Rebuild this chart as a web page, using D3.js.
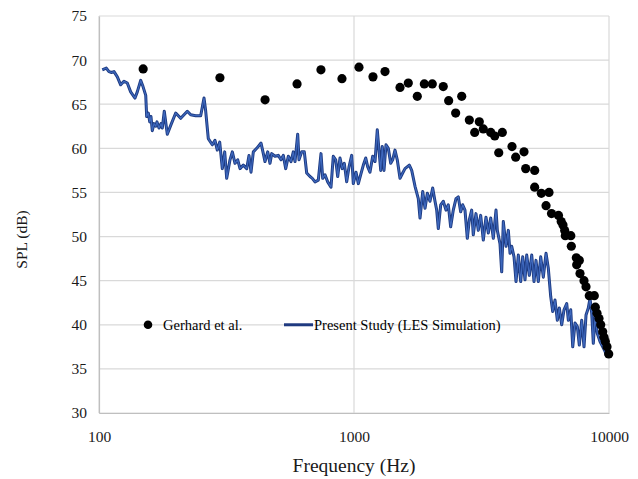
<!DOCTYPE html>
<html>
<head>
<meta charset="utf-8">
<script src="https://cdn.jsdelivr.net/npm/d3@7"></script>
<style>
  body { margin: 0; background: #fff; }
  svg text { font-family: "Liberation Serif", Tinos, "Times New Roman", serif; }
</style>
</head>
<body>
<div id="chart"></div>
<script>
// Gerhard et al. measured points
const gerhardFreq = [149, 298, 448, 598, 742, 897, 1046, 1187, 1323, 1515, 1633, 1771, 1887, 2028,
  2239, 2351, 2504, 2645, 2833, 2974, 3100, 3214, 3437, 3564, 3695, 3816, 4165, 4306, 4642, 4713,
  5111, 5111, 5427, 5818, 5663, 5951, 6339, 6494, 6601, 6704, 6740, 7083, 7116, 7444, 7648, 7470,
  7697, 7980, 8126, 8370, 8759, 8838, 8974, 9137, 9279, 9448, 9560, 9673, 9822, 9973];
const gerhardSpl = [69.0, 68.0, 65.5, 67.3, 68.9, 67.9, 69.2, 68.1, 68.7, 66.9, 67.4, 65.9, 67.3, 67.3,
  67.0, 65.4, 64.0, 65.9, 63.2, 61.8, 63.0, 62.2, 61.8, 61.4, 59.5, 61.8, 60.2, 59.0, 59.6, 57.7,
  57.5, 55.6, 54.9, 55.0, 53.5, 52.6, 52.4, 51.7, 51.3, 50.7, 50.1, 50.1, 48.9, 47.6, 47.3, 46.8,
  45.8, 45.0, 44.3, 43.3, 43.3, 42.0, 41.3, 40.7, 40.0, 39.2, 38.6, 38.1, 37.5, 36.7];

// Present study (LES simulation)
const lesFreq = [103, 106.8, 109.4, 112.1, 114.5, 118, 121.6, 125.3, 129.1, 133.1, 138.4, 141.3, 145.7,
  148.8, 152.5, 153.8, 156.1, 158.1, 159.9, 161.8, 164.3, 166.9, 168.8, 171.9, 175, 177.1, 180.3,
  185.3, 191.1, 199.9, 209.1, 222, 228.9, 239.4, 250.5, 258.1, 262.1, 268.3, 278.2, 285, 291,
  297.4, 304.5, 311.1, 316.8, 326.4, 333.3, 341.5, 349.9, 357.3, 368.1, 379.6, 387.5, 394.6, 402.9,
  415.4, 431.9, 441, 447.7, 458.8, 468.4, 475.7, 490, 504.8, 517.3, 528.1, 539.8, 552.6, 566.2,
  578.1, 587, 601.5, 608.6, 623.6, 638.4, 652.4, 672.2, 686.3, 703.2, 724.4, 742.3, 753.8, 769.6,
  788.6, 812.4, 829.4, 847.6, 863.1, 881.2, 899.6, 916.2, 936.2, 956, 979.5, 993.8,
  1018, 1040, 1062, 1088, 1112, 1132, 1155, 1184, 1209, 1234, 1253, 1273, 1291, 1311, 1335, 1363,
  1393, 1418, 1448, 1478, 1515, 1552, 1585, 1648, 1684, 1735, 1787, 1815, 1860, 1899, 1939, 1986,
  2035, 2078, 2110, 2141, 2188, 2239, 2295, 2343, 2394, 2451, 2512, 2564, 2620, 2668, 2724, 2782,
  2833, 2894, 2936, 3008, 3072, 3139, 3214, 3293, 3363, 3437, 3518, 3605, 3648, 3737, 3795, 3851,
  3946, 4029, 4092, 4154, 4242, 4319, 4410, 4506, 4588, 4684, 4757, 4870, 4977, 5081, 5173, 5281,
  5398, 5526, 5663, 5781, 5908, 6016, 6142, 6272, 6386, 6525, 6662, 6827, 6927, 7079, 7207, 7359,
  7513, 7648, 7816, 7980, 8126, 8296, 8425, 8556, 8679, 8814, 9000, 9220, 9448, 9646, 9795];
const lesSpl = [68.9, 69.1, 68.7, 68.6, 68.7, 68.1, 67.2, 67.6, 67.4, 66.4, 65.7, 66.4, 67.7,
  67.0, 66.0, 63.6, 64.0, 63.0, 63.6, 62.0, 62.8, 62.5, 63.0, 62.3, 62.8, 62.3, 64.2,
  61.6, 62.6, 64.0, 63.4, 64.2, 63.8, 63.7, 63.7, 65.7, 64.2, 61.1, 60.4, 60.9, 59.8,
  60.7, 57.7, 59.6, 56.6, 58.7, 59.6, 58.3, 58.7, 57.7, 58.1, 57.7, 59.2, 57.3, 59.6,
  60.0, 60.6, 59.4, 58.5, 59.6, 58.3, 59.4, 59.1, 59.2, 58.7, 59.2, 57.7, 59.1, 58.5,
  59.6, 58.5, 61.6, 58.7, 59.6, 59.6, 57.2, 56.8, 56.6, 56.2, 56.4, 59.4, 56.6, 57.0,
  56.2, 55.6, 59.1, 58.7, 56.8, 58.9, 57.7, 58.3, 56.2, 57.9, 59.2, 56.0,
  57.3, 56.0, 57.0, 58.1, 58.9, 57.9, 57.3, 59.1, 58.5, 62.1, 59.8, 57.5, 60.2, 57.5, 60.4, 60.0,
  58.3, 58.7, 59.8, 58.7, 56.6, 57.2, 57.7, 58.1, 57.5, 55.7, 54.3, 52.1, 55.1, 53.2, 54.9, 54.0,
  55.5, 54.0, 53.0, 50.9, 53.6, 54.0, 53.0, 53.6, 51.1, 53.0, 54.3, 54.5, 52.8, 53.6, 53.0, 49.8,
  51.9, 53.0, 50.2, 52.6, 50.7, 52.4, 49.6, 52.2, 50.4, 52.1, 49.8, 53.0, 50.7, 49.2, 46.0, 51.7,
  48.9, 50.7, 48.1, 48.9, 47.7, 44.9, 47.9, 44.9, 47.7, 45.1, 47.9, 45.6, 47.9, 44.9, 47.3, 44.9,
  47.7, 45.4, 48.1, 46.4, 43.2, 41.5, 42.8, 40.5, 41.9, 40.0, 41.7, 42.4, 40.5, 41.7, 37.5, 40.2,
  39.8, 37.7, 40.5, 37.5, 41.1, 41.9, 43.0, 41.3, 37.9, 40.9, 39.0, 38.1, 37.5, 37.0, 36.4];

const xTicks = [100, 1000, 10000];
const yTicks = [30, 35, 40, 45, 50, 55, 60, 65, 70, 75];

const width = 638, height = 479;
const margin = {top: 16, right: 29, bottom: 66, left: 99};
const serif = "'Liberation Serif', Tinos, 'Times New Roman', serif";

const svg = d3.select("#chart")
  .append("svg")
  .attr("width", width)
  .attr("height", height)
  .attr("font-family", serif);

const x = d3.scaleLog()
  .domain([100, 10000])
  .range([margin.left, width - margin.right]);

const y = d3.scaleLinear()
  .domain([30, 75])
  .range([height - margin.bottom, margin.top]);

// gridlines
svg.append("g")
  .selectAll("line")
  .data(yTicks)
  .join("line")
    .attr("x1", margin.left)
    .attr("x2", width - margin.right)
    .attr("y1", d => y(d))
    .attr("y2", d => y(d))
    .attr("stroke", "#d9d9d9")
    .attr("stroke-width", 1.2);

svg.append("g")
  .selectAll("line")
  .data(xTicks)
  .join("line")
    .attr("x1", d => x(d))
    .attr("x2", d => x(d))
    .attr("y1", margin.top)
    .attr("y2", height - margin.bottom)
    .attr("stroke", "#d9d9d9")
    .attr("stroke-width", 1.2);

// axes
const xAxis = svg.append("g")
  .attr("transform", `translate(0,${height - margin.bottom})`)
  .call(d3.axisBottom(x).tickValues(xTicks).tickFormat(d3.format("d")).tickSize(0).tickPadding(18));

const yAxis = svg.append("g")
  .attr("transform", `translate(${margin.left},0)`)
  .call(d3.axisLeft(y).tickValues(yTicks).tickSize(0).tickPadding(12));

[xAxis, yAxis].forEach(a => {
  a.attr("font-family", serif);
  a.select(".domain").attr("stroke", "#bfbfbf").attr("stroke-width", 1.2);
  a.selectAll("text")
    .attr("font-size", 15.5)
    .attr("fill", "#1a1a1a");
});

// LES line: dark edge with a lighter blue core
const line = d3.line()
  .x((d, i) => x(lesFreq[i]))
  .y(d => y(d));

svg.append("path")
  .datum(lesSpl)
  .attr("fill", "none")
  .attr("stroke", "#1d3a80")
  .attr("stroke-width", 3)
  .attr("stroke-linejoin", "round")
  .attr("d", line);

svg.append("path")
  .datum(lesSpl)
  .attr("fill", "none")
  .attr("stroke", "#3e68bd")
  .attr("stroke-width", 1.2)
  .attr("stroke-linejoin", "round")
  .attr("d", line);

// Gerhard points
svg.append("g")
  .selectAll("circle")
  .data(gerhardSpl)
  .join("circle")
    .attr("cx", (d, i) => x(gerhardFreq[i]))
    .attr("cy", d => y(d))
    .attr("r", 4.6)
    .attr("fill", "#000");

// legend
const legY = y(40);
svg.append("circle")
  .attr("cx", 148).attr("cy", legY).attr("r", 4.3).attr("fill", "#000");
svg.append("text")
  .attr("x", 163).attr("y", legY + 5)
  .attr("font-size", 14.5).attr("fill", "#000")
  .text("Gerhard et al.");
svg.append("line")
  .attr("x1", 284).attr("x2", 313)
  .attr("y1", legY).attr("y2", legY)
  .attr("stroke", "#1f3a80").attr("stroke-width", 3);
svg.append("text")
  .attr("x", 314).attr("y", legY + 5)
  .attr("font-size", 14.5).attr("fill", "#000")
  .text("Present Study (LES Simulation)");

// axis titles
svg.append("text")
  .attr("x", x(1000)).attr("y", 472)
  .attr("text-anchor", "middle")
  .attr("font-size", 19.5).attr("fill", "#1a1a1a")
  .text("Frequency (Hz)");

svg.append("text")
  .attr("transform", `translate(27,${(margin.top + height - margin.bottom) / 2 + 25}) rotate(-90)`)
  .attr("text-anchor", "middle")
  .attr("font-size", 15.5).attr("fill", "#1a1a1a")
  .text("SPL (dB)");
</script>
</body>
</html>
